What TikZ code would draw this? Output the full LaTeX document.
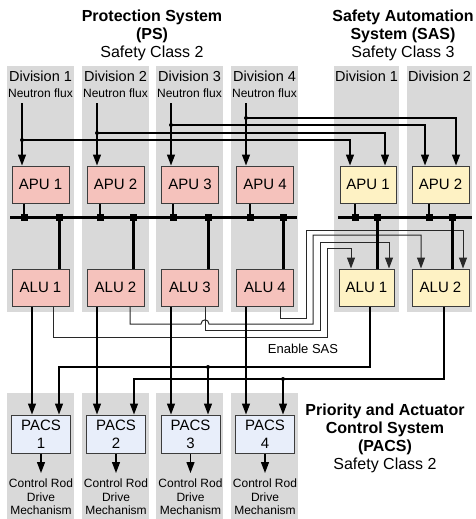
\documentclass[tikz,border=0pt]{standalone}
\usepackage{fontspec}
\setmainfont{Liberation Sans}
\usetikzlibrary{arrows.meta}
\definecolor{colbg}{RGB}{217,217,217}
\definecolor{psfill}{RGB}{245,194,188}
\definecolor{sasfill}{RGB}{254,242,196}
\definecolor{pacsfill}{RGB}{232,238,250}
\definecolor{boxline}{RGB}{60,60,60}
\definecolor{enline}{RGB}{40,40,40}
\tikzset{
  box/.style={draw=boxline, line width=1pt, minimum width=57pt, minimum height=37pt, inner sep=0pt, font=\fontsize{15}{16}\selectfont},
  ps/.style={box, fill=psfill},
  sas/.style={box, fill=sasfill},
  pacsbox/.style={box, fill=pacsfill, minimum width=59pt, minimum height=38pt, align=center, font=\fontsize{15}{18}\selectfont},
  arr/.style={-{Triangle[length=11pt,width=8pt]}},
  flux/.style={line width=1.3pt, black},
  en/.style={line width=1pt, enline},
  bus/.style={line width=3pt, black},
  apul/.style={line width=2pt, black},
  sq/.style={fill=black, minimum size=7pt, inner sep=0pt},
  divl/.style={inner sep=0pt, font=\fontsize{14.5}{16}\selectfont},
  nfl/.style={inner sep=0pt, font=\fontsize{12}{14}\selectfont},
  crdl/.style={inner sep=0pt, align=center, font=\fontsize{12}{13.5}\selectfont},
  title/.style={inner sep=0pt, align=center, font=\fontsize{16}{18}\selectfont},
}
\begin{document}
\begin{tikzpicture}[x=1pt,y=-1pt]
\useasboundingbox (0,0) rectangle (476,519);
% division backgrounds
\foreach \a/\b in {7/74,82/149,156/223,231/298,334/399,407/472}
  \fill[colbg] (\a,66) rectangle (\b,312);
\foreach \a/\b in {7/74,82/149,156/223,231/298}
  \fill[colbg] (\a,393) rectangle (\b,519);
% titles
\node[title] (tps) at (152,35.5) {\textbf{Protection System}\\\textbf{(PS)}\\Safety Class 2};
\node[title] (tsas) at (403,35) {\textbf{Safety Automation}\\\textbf{System (SAS)}\\Safety Class 3};
\node[title] (tpacs) at (385,438.5) {\textbf{Priority and Actuator}\\\textbf{Control System}\\\textbf{(PACS)}\\Safety Class 2};
% division labels
\node[divl] (dv1) at (40.5,76) {Division 1};
\node[divl] (dv2) at (115.5,76) {Division 2};
\node[divl] (dv3) at (189.5,76) {Division 3};
\node[divl] (dv4) at (264.5,76) {Division 4};
\node[divl] (sdv1) at (366.5,76) {Division 1};
\node[divl] (sdv2) at (439.5,76) {Division 2};
\node[nfl] (nf1) at (40.5,93) {Neutron flux};
\node[nfl] (nf2) at (115.5,93) {Neutron flux};
\node[nfl] (nf3) at (189.5,93) {Neutron flux};
\node[nfl] (nf4) at (264.5,93) {Neutron flux};
% boxes
\node[ps] (apu1) at (40.5,184.5) {APU 1};
\node[ps] (apu2) at (115.5,184.5) {APU 2};
\node[ps] (apu3) at (190,184.5) {APU 3};
\node[ps] (apu4) at (265,184.5) {APU 4};
\node[sas, minimum width=56pt] (sapu1) at (368,184.5) {APU 1};
\node[sas] (sapu2) at (440.5,184.5) {APU 2};
\node[ps] (alu1) at (40.5,287.5) {ALU 1};
\node[ps] (alu2) at (115.5,287.5) {ALU 2};
\node[ps] (alu3) at (190,287.5) {ALU 3};
\node[ps] (alu4) at (265,287.5) {ALU 4};
\node[sas, minimum width=55pt] (salu1) at (366.5,287.5) {ALU 1};
\node[sas] (salu2) at (440.5,287.5) {ALU 2};
\node[pacsbox] (pacs1) at (41,434) {PACS\\1};
\node[pacsbox] (pacs2) at (116,434) {PACS\\2};
\node[pacsbox] (pacs3) at (190.5,434) {PACS\\3};
\node[pacsbox] (pacs4) at (265,434) {PACS\\4};
% neutron flux inputs
\coordinate (f1) at (22,103);
\coordinate (f2) at (97,103);
\coordinate (f3) at (171,103);
\coordinate (f4) at (246,103);
\draw[flux,arr] (f1) -- (f1 |- apu1.north);
\draw[flux,arr] (f2) -- (f2 |- apu2.north);
\draw[flux,arr] (f3) -- (f3 |- apu3.north);
\draw[flux,arr] (f4) -- (f4 |- apu4.north);
\coordinate (d1) at (22,140);
\coordinate (d2) at (97,133);
\coordinate (d3) at (171,125);
\coordinate (d4) at (246,118);
\draw[flux,arr] (d1) -| (350,0 |- sapu1.north);
\draw[flux,arr] (d2) -| (385,0 |- sapu1.north);
\draw[flux,arr] (d3) -| (425,0 |- sapu2.north);
\draw[flux,arr] (d4) -| (456,0 |- sapu2.north);
\foreach \d in {d1,d2,d3,d4} \fill (\d) circle (2pt);
% buses
\draw[apul] (apu1.south -| 24,0) -- (24,217);
\draw[apul] (apu2.south -| 100,0) -- (100,217);
\draw[apul] (apu3.south -| 173,0) -- (173,217);
\draw[apul] (apu4.south -| 250,0) -- (250,217);
\draw[apul] (sapu1.south -| 355,0) -- (355,217);
\draw[apul] (sapu2.south -| 429,0) -- (429,217);
\draw[bus] (59,217) -- (59,0 |- alu1.north);
\draw[bus] (133,217) -- (133,0 |- alu2.north);
\draw[bus] (208,217) -- (208,0 |- alu3.north);
\draw[bus] (283,217) -- (283,0 |- alu4.north);
% enable SAS lines
\draw[en,arr] (alu1.south -| 53,0) |- (327,337) |- (351,248) -- (351,0 |- salu1.north);
\draw[en,arr] (alu2.south -| 130,0) -- (130,324) -- (201,324) .. controls (201,318.5) and (209,318.5) .. (209,324) -- (313,324) |- (421,235) -- (421,0 |- salu2.north);
\draw[en,arr] (alu3.south -| 205,0) |- (320,330) |- (389,242) -- (389,0 |- salu1.north);
\draw[en,arr] (alu4.south -| 280,0) |- (306,318) |- (463,230) -- (463,0 |- salu2.north);
\draw[bus] (377,217) -- (377,0 |- salu1.north);
\draw[bus] (452,217) -- (452,0 |- salu2.north);
\draw[bus] (10,217) -- (297,217);
\draw[bus] (338,217) -- (472,217);
\foreach \x in {24,59,100,133,173,208,250,283,355,377,429,452}
  \node[sq] at (\x,217) {};
\node[inner sep=0pt, font=\fontsize{13}{14}\selectfont] (enl) at (303,349) {Enable SAS};
% ALU to PACS
\draw[flux,arr] (alu1.south -| 32,0) -- (32,0 |- pacs1.north);
\draw[flux,arr] (alu2.south -| 97,0) -- (97,0 |- pacs2.north);
\draw[flux,arr] (alu3.south -| 171,0) -- (171,0 |- pacs3.north);
\draw[flux,arr] (alu4.south -| 246,0) -- (246,0 |- pacs4.north);
\coordinate (e1) at (208,367);
\coordinate (e2) at (283,379);
\draw[flux,arr] (salu1.south -| 370,0) |- (59,367) -- (59,0 |- pacs1.north);
\draw[flux,arr] (e1) -- (208,0 |- pacs3.north);
\draw[flux,arr] (salu2.south -| 444,0) |- (134,379) -- (134,0 |- pacs2.north);
\draw[flux,arr] (e2) -- (283,0 |- pacs4.north);
\fill (e1) circle (2pt);
\fill (e2) circle (2pt);
% PACS outputs
\coordinate (o1) at (41,473);
\coordinate (o2) at (116,473);
\coordinate (o3) at (190.5,473);
\coordinate (o4) at (265,473);
\draw[flux,arr] (pacs1.south) -- (o1);
\draw[flux,arr] (pacs2.south) -- (o2);
\draw[flux,arr] (pacs3.south) -- (o3);
\draw[flux,arr] (pacs4.south) -- (o4);
\node[crdl] (c1) at (41,497) {Control Rod\\Drive\\Mechanism};
\node[crdl] (c2) at (116,497) {Control Rod\\Drive\\Mechanism};
\node[crdl] (c3) at (190.5,497) {Control Rod\\Drive\\Mechanism};
\node[crdl] (c4) at (265,497) {Control Rod\\Drive\\Mechanism};
\end{tikzpicture}
\end{document}
